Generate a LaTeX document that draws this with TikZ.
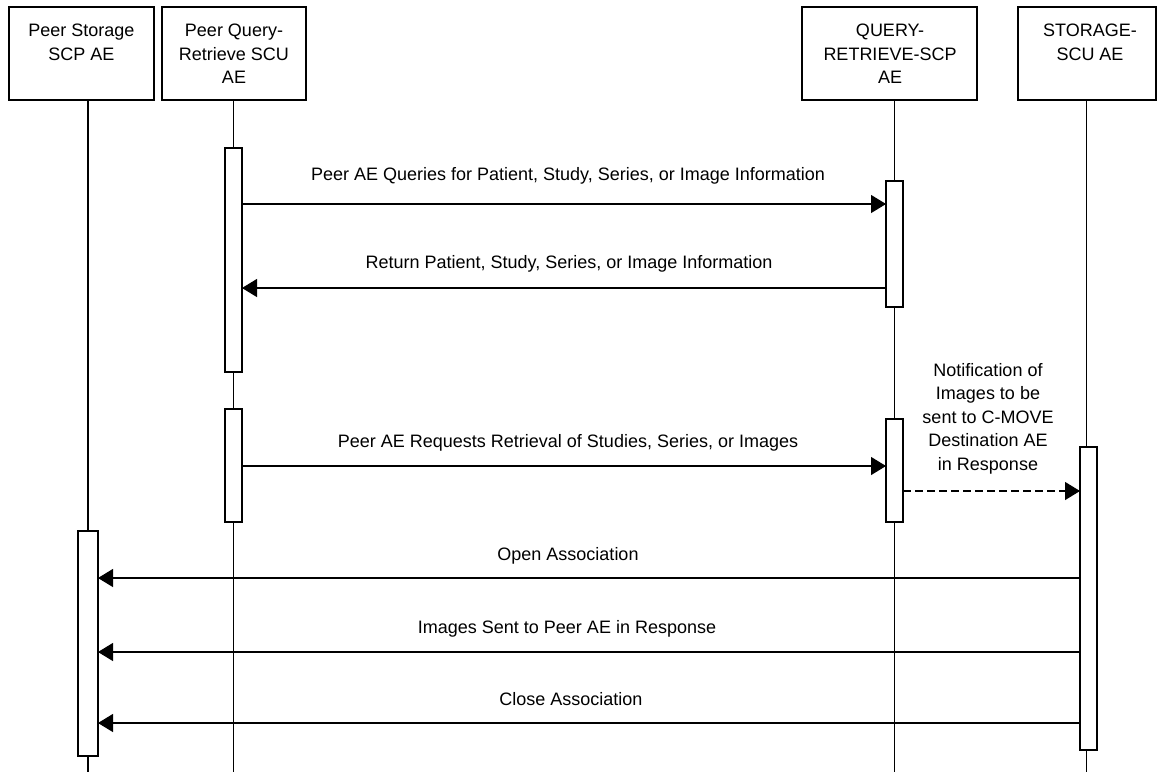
\documentclass[tikz,border=0pt]{standalone}
\usepackage{fontspec}
\setmainfont{Liberation Sans}
\usetikzlibrary{arrows.meta}
\begin{document}
\begin{tikzpicture}[x=1pt,y=-1pt,
  every node/.style={font=\fontsize{18}{23.5}\selectfont, inner sep=0pt, outer sep=0pt},
  hbox/.style={draw, line width=1.2pt, anchor=north west, fill=white, minimum height=93pt},
  act/.style={draw, line width=1.2pt, fill=white, anchor=north west},
  life/.style={line width=1.2pt},
  msg/.style={line width=1.2pt, -{Triangle[length=15pt,width=18pt]}},
  dmsg/.style={msg, dash pattern=on 8pt off 4pt},
  lbl/.style={anchor=base},
  ml/.style={anchor=north, align=center}]
\useasboundingbox (0,0) rectangle (1158,772);
% header boxes
\node[hbox, minimum width=145pt] (H1) at (9,7) {};
\node[hbox, minimum width=144pt] (H2) at (162,7) {};
\node[hbox, minimum width=175pt] (H3) at (802,7) {};
\node[hbox, minimum width=138pt] (H4) at (1018,7) {};
\node[ml] (T1) at (81.5,24) {Peer Storage\\SCP AE};
\node[ml] (T2) at (234,24) {Peer Query-\\Retrieve SCU\\AE};
\node[ml] (T3) at (890,24) {QUERY-\\RETRIEVE-SCP\\AE};
\node[ml] (T4) at (1090,24) {STORAGE-\\SCU AE};
% lifelines
\coordinate (B1) at (88,772);
\coordinate (B2) at (233.5,772);
\coordinate (B3) at (894.5,772);
\coordinate (B4) at (1086.5,772);
\draw[life] (H1.south -| B1) -- (B1);
\draw[life] (H2.south -| B2) -- (B2);
\draw[life] (H3.south -| B3) -- (B3);
\draw[life] (H4.south -| B4) -- (B4);
% activations
\node[act, minimum width=17pt, minimum height=224pt] (A2a) at (225,148) {};
\node[act, minimum width=17pt, minimum height=113pt] (A2b) at (225,409) {};
\node[act, minimum width=17pt, minimum height=126pt] (A3a) at (886,181) {};
\node[act, minimum width=17pt, minimum height=103pt] (A3b) at (886,419) {};
\node[act, minimum width=17pt, minimum height=303pt] (A4) at (1080,447) {};
\node[act, minimum width=20pt, minimum height=225pt] (A1) at (78,531) {};
% message rows
\coordinate (y1) at (0,204);
\coordinate (y2) at (0,288);
\coordinate (y3) at (0,466);
\coordinate (y4) at (0,491);
\coordinate (y5) at (0,578);
\coordinate (y6) at (0,652);
\coordinate (y7) at (0,723);
\draw[msg] (A2a.east |- y1) -- (A3a.west |- y1);
\draw[msg] (A3a.west |- y2) -- (A2a.east |- y2);
\draw[msg] (A2b.east |- y3) -- (A3b.west |- y3);
\draw[dmsg] (A3b.east |- y4) -- (A4.west |- y4);
\draw[msg] (A4.west |- y5) -- (A1.east |- y5);
\draw[msg] (A4.west |- y6) -- (A1.east |- y6);
\draw[msg] (A4.west |- y7) -- (A1.east |- y7);
% labels
\node[lbl] (L1) at (568,180) {Peer AE Queries for Patient, Study, Series, or Image Information};
\node[lbl] (L2) at (569,268) {Return Patient, Study, Series, or Image Information};
\node[lbl] (L3) at (568,447) {Peer AE Requests Retrieval of Studies, Series, or Images};
\node[ml] (L4) at (988,363) {Notification of\\Images to be\\sent to C-MOVE\\Destination AE\\in Response};
\node[lbl] (L5) at (568,560) {Open Association};
\node[lbl] (L6) at (567,633) {Images Sent to Peer AE in Response};
\node[lbl] (L7) at (571,705) {Close Association};
\end{tikzpicture}
\end{document}
